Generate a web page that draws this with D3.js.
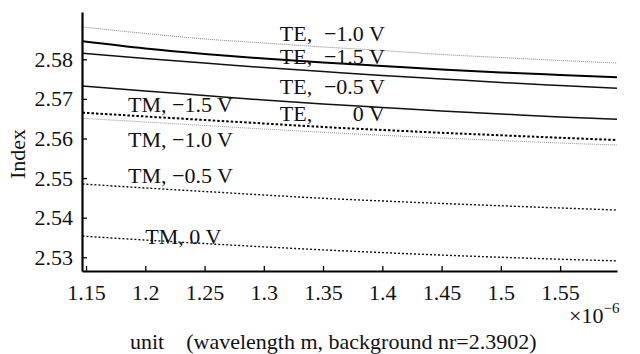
<!DOCTYPE html>
<html>
<head>
<meta charset="utf-8">
<script src="https://cdn.jsdelivr.net/npm/d3@7"></script>
<style>
  html, body { margin: 0; padding: 0; background: #fff; }
  svg { display: block; }
  text { font-family: "Liberation Serif", "DejaVu Serif", serif; fill: #111; }
</style>
</head>
<body>
<svg id="chart" width="640" height="354"></svg>
<script>
// Wavelength samples (×10^-6 m)
const wavelength = [1.147, 1.2, 1.25, 1.3, 1.35, 1.4, 1.45, 1.5, 1.55, 1.598];

// Effective index curves
const teTopDotted = [2.58816, 2.58652, 2.58513, 2.58412, 2.58311, 2.58222, 2.58121, 2.58045, 2.57970, 2.57907];
const teSolidA    = [2.58455, 2.58273, 2.58134, 2.58020, 2.57919, 2.57831, 2.57742, 2.57667, 2.57604, 2.57545];
const teSolidB    = [2.58152, 2.58020, 2.57907, 2.57793, 2.57692, 2.57591, 2.57503, 2.57414, 2.57338, 2.57268];
const teSolidC    = [2.57326, 2.57199, 2.57086, 2.56972, 2.56871, 2.56783, 2.56694, 2.56619, 2.56543, 2.56485];
const tmDashed    = [2.56652, 2.56556, 2.56467, 2.56379, 2.56290, 2.56215, 2.56144, 2.56081, 2.56018, 2.55962];
const tmGrey      = [2.56510, 2.56417, 2.56328, 2.56240, 2.56157, 2.56081, 2.56013, 2.55949, 2.55886, 2.55836];
const tmHalf      = [2.54851, 2.54750, 2.54662, 2.54573, 2.54490, 2.54422, 2.54359, 2.54301, 2.54245, 2.54194];
const tmZero      = [2.53536, 2.53436, 2.53347, 2.53264, 2.53187, 2.53119, 2.53056, 2.53001, 2.52951, 2.52910];

const xTicks = [1.15, 1.2, 1.25, 1.3, 1.35, 1.4, 1.45, 1.5, 1.55];
const yTicks = [2.53, 2.54, 2.55, 2.56, 2.57, 2.58];

// Curve labels: mode, bias, anchor wavelength, anchor index (label baseline), aligned bias column?
const labelMode  = ["TE,", "TE,", "TE,", "TE,", "TM,", "TM,", "TM,", "TM,"];
const labelBias  = ["\u22121.0 V", "\u22121.5 V", "\u22120.5 V", "0 V", "\u22121.5 V", "\u22121.0 V", "\u22120.5 V", "0 V"];
const labelX     = [1.3135, 1.3135, 1.3135, 1.3135, 1.1854, 1.1854, 1.1854, 1.2];
const labelY     = [2.58462, 2.57881, 2.57124, 2.56442, 2.56669, 2.55785, 2.54876, 2.53336];
const labelAlign = [true, true, true, true, true, true, true, false];

const SERIF = "Liberation Serif, DejaVu Serif, serif";
const svg = d3.select("#chart");
const x = d3.scaleLinear().domain([1.1466, 1.598]).range([82, 617]);
const y = d3.scaleLinear().domain([2.52654, 2.59194]).range([271, 12]);

const series = [
  { v: teTopDotted, stroke: "#8a8a8a", width: 1.1, dash: "1,1" },
  { v: teSolidA,    stroke: "#000",    width: 2.0, dash: null },
  { v: teSolidB,    stroke: "#111",    width: 1.5, dash: null },
  { v: teSolidC,    stroke: "#111",    width: 1.5, dash: null },
  { v: tmDashed,    stroke: "#000",    width: 2.0, dash: "2.5,2" },
  { v: tmGrey,      stroke: "#9a9a9a", width: 1.1, dash: "1,1" },
  { v: tmHalf,      stroke: "#111",    width: 1.4, dash: "2,2" },
  { v: tmZero,      stroke: "#111",    width: 1.4, dash: "2,2" }
];

const line = d3.line()
  .x((d, i) => x(wavelength[i]))
  .y(d => y(d))
  .curve(d3.curveMonotoneX);

svg.append("g").selectAll("path").data(series).join("path")
  .attr("d", s => line(s.v))
  .attr("fill", "none")
  .attr("stroke", s => s.stroke)
  .attr("stroke-width", s => s.width)
  .attr("stroke-dasharray", s => s.dash);

// Axes (ticks pointing inward)
const xAxis = d3.axisBottom(x).tickValues(xTicks).tickSizeInner(-5).tickSizeOuter(0)
  .tickFormat(d3.format("")).tickPadding(13);
const gx = svg.append("g").attr("transform", "translate(0,271)").call(xAxis)
  .attr("font-family", SERIF).attr("font-size", 22);
gx.select(".domain").attr("stroke", "#000").attr("stroke-width", 2.2);
gx.selectAll(".tick line").attr("stroke", "#000").attr("stroke-width", 1.3);
gx.selectAll(".tick text").attr("fill", "#111");

const yAxis = d3.axisLeft(y).tickValues(yTicks).tickSizeInner(-5).tickSizeOuter(0)
  .tickFormat(d3.format(".2f")).tickPadding(9);
const gy = svg.append("g").attr("transform", "translate(82,0)").call(yAxis)
  .attr("font-family", SERIF).attr("font-size", 22);
gy.select(".domain").attr("stroke", "#000").attr("stroke-width", 2.2);
gy.selectAll(".tick line").attr("stroke", "#000").attr("stroke-width", 1.3);
gy.selectAll(".tick text").attr("fill", "#111");

// Curve labels: bias values right-aligned in a column, except the compact last one
const lab = svg.append("g").style("font-size", "22px");
labelMode.forEach((m, i) => {
  if (labelAlign[i]) {
    lab.append("text").attr("x", x(labelX[i])).attr("y", y(labelY[i])).text(m);
    lab.append("text").attr("x", x(labelX[i]) + 105).attr("y", y(labelY[i]))
      .attr("text-anchor", "end").text(labelBias[i]);
  } else {
    lab.append("text").attr("x", x(labelX[i])).attr("y", y(labelY[i]))
      .text(m + " " + labelBias[i]);
  }
});

// Axis titles
svg.append("text")
  .attr("transform", "translate(25,154) rotate(-90)")
  .attr("text-anchor", "middle")
  .style("font-size", "22px")
  .text("Index");

svg.append("text")
  .attr("x", 130).attr("y", 349)
  .style("font-size", "22px")
  .style("white-space", "pre")
  .text("unit\u2003(wavelength m, background nr=2.3902)");

const mult = svg.append("text").attr("x", 569).attr("y", 323).style("font-size", "22px");
mult.append("tspan").text("\u00d710");
mult.append("tspan").attr("dy", -10).style("font-size", "15px").text("\u22126");
</script>
</body>
</html>
